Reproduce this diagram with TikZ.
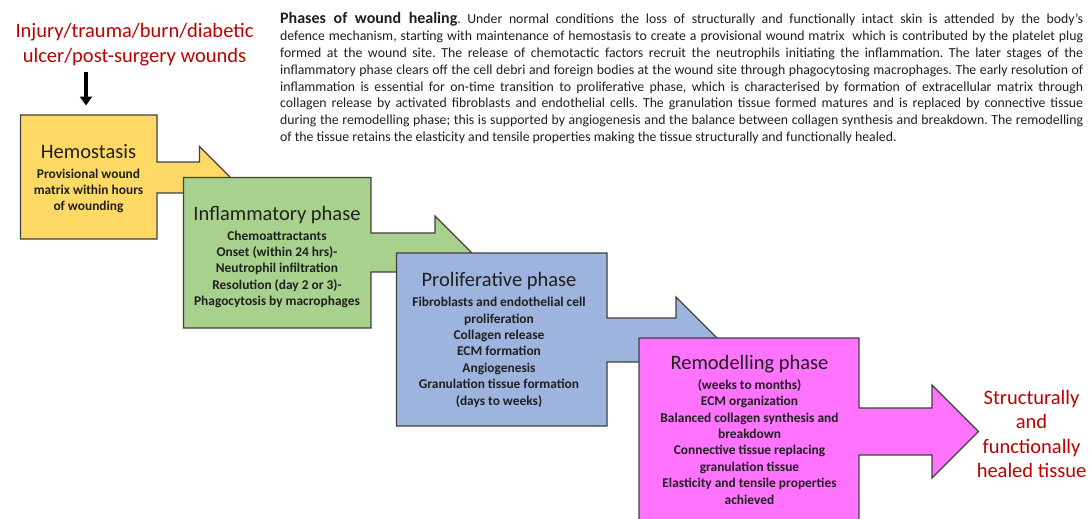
\documentclass[tikz,border=0pt]{standalone}
\usepackage{fontspec}
\setmainfont{Carlito}
\usetikzlibrary{arrows.meta}
\definecolor{hemo}{HTML}{FFD966}
\definecolor{infl}{HTML}{A9D18E}
\definecolor{prol}{HTML}{9DB4DE}
\definecolor{remo}{HTML}{FF73FF}
\definecolor{edgegray}{HTML}{404040}
\definecolor{redtxt}{HTML}{C00000}
\definecolor{boxtxt}{HTML}{1F1F1F}
\newcommand\cl[1]{\hbox to 0pt{\hss#1\hss}}
\newcommand\jl[1]{\hbox to 803pt{#1}}
\begin{document}
\frenchspacing
\begin{tikzpicture}[x=1pt,y=-1pt,
  phase/.style={draw=edgegray,line width=1.3pt,line join=miter},
  ttl/.style={anchor=base,inner sep=0,text=boxtxt,font=\fontsize{20.5}{24}\selectfont},
  body/.style={anchor=base,inner sep=0,text=boxtxt,font=\fontsize{13.4}{16.4}\selectfont\bfseries},
  redtext/.style={anchor=base,inner sep=0,text=redtxt,font=\fontsize{20.5}{24.6}\selectfont},
  para/.style={anchor=base west,inner sep=0,text=boxtxt,font=\fontsize{13.8}{16.9}\selectfont}]
\useasboundingbox (0,0) rectangle (1092,519);
\clip (0,0) rectangle (1092,519);

% Phase shapes
\path[phase,fill=hemo] (20.5,115) -- (157,115) -- (157,162) -- (199.5,162) -- (199.5,146.5)
  -- (230.5,177.5) -- (199.5,208.5) -- (199.5,193) -- (157,193) -- (157,239) -- (20.5,239) -- cycle;
\path[phase,fill=infl] (183.5,177.5) -- (371,177.5) -- (371,233) -- (435,233) -- (435,216)
  -- (471.5,252.5) -- (435,289) -- (435,272) -- (371,272) -- (371,328) -- (183.5,328) -- cycle;
\path[phase,fill=prol] (396.5,253) -- (607,253) -- (607,318) -- (676,318) -- (676,297)
  -- (719,340) -- (676,383) -- (676,362) -- (607,362) -- (607,426) -- (396.5,426) -- cycle;
\path[phase,fill=remo] (639,338) -- (859,338) -- (859,408) -- (932,408) -- (932,385)
  -- (978.5,431.5) -- (932,478) -- (932,455) -- (859,455) -- (859,540) -- (639,540) -- cycle;

% Top-left cause text and arrow
\node[redtext] (cause) at (134.5,37.5) {\vtop{\cl{Injury/trauma/burn/diabetic}\cl{ulcer/post-surgery wounds}}};
\coordinate (arrS) at (86,72.5);
\coordinate (arrE) at (86,105.5);
\draw[line width=3.6pt,-{Triangle[width=12pt,length=9pt]}] (arrS) -- (arrE);

% Hemostasis
\node[ttl] (hemT) at (88.5,158.5) {Hemostasis};
\node[body] (hemB) at (88.5,178) {\vtop{\cl{Provisional wound}\cl{matrix within hours}\cl{of wounding}}};

% Inflammatory
\node[ttl] (infT) at (277,220.7) {Inflammatory phase};
\node[body] (infB) at (277,240) {\vtop{\cl{Chemoattractants}\cl{Onset (within 24 hrs)-}\cl{Neutrophil infiltration}\cl{Resolution (day 2 or 3)-}\cl{Phagocytosis by macrophages}}};

% Proliferative
\node[ttl] (proT) at (499,286.7) {Proliferative phase};
\node[body] (proB) at (499,306.7) {\vtop{\cl{Fibroblasts and endothelial cell}\cl{proliferation}\cl{Collagen release}\cl{ECM formation}\cl{Angiogenesis}\cl{Granulation tissue formation}\cl{(days to weeks)}}};

% Remodelling
\node[ttl] (remT) at (749.5,369.3) {Remodelling phase};
\node[body] (remB) at (749.5,389.3) {\vtop{\cl{(weeks to months)}\cl{ECM organization}\cl{Balanced collagen synthesis and}\cl{breakdown}\cl{Connective tissue replacing}\cl{granulation tissue}\cl{Elasticity and tensile properties}\cl{achieved}}};

% Outcome
\node[redtext] (outc) at (1031.5,404) {\vtop{\cl{Structurally}\cl{and}\cl{functionally}\cl{healed tissue}}};

% Caption paragraph
\node[para] (capt) at (280,23.5) {\vtop{%
\jl{{\fontsize{16}{16.9}\selectfont\bfseries Phases of wound healing}. Under normal conditions the loss of structurally and functionally intact skin is attended by the body’s}
\jl{defence mechanism, starting with maintenance of hemostasis to create a provisional wound matrix\ \ which is contributed by the platelet plug}
\jl{formed at the wound site. The release of chemotactic factors recruit the neutrophils initiating the inflammation. The later stages of the}
\jl{inflammatory phase clears off the cell debri and foreign bodies at the wound site through phagocytosing macrophages. The early resolution of}
\jl{inflammation is essential for on-time transition to proliferative phase, which is characterised by formation of extracellular matrix through}
\jl{collagen release by activated fibroblasts and endothelial cells. The granulation tissue formed matures and is replaced by connective tissue}
\jl{during the remodelling phase; this is supported by angiogenesis and the balance between collagen synthesis and breakdown. The remodelling}
\hbox{of the tissue retains the elasticity and tensile properties making the tissue structurally and functionally healed.}}};
\end{tikzpicture}
\end{document}
